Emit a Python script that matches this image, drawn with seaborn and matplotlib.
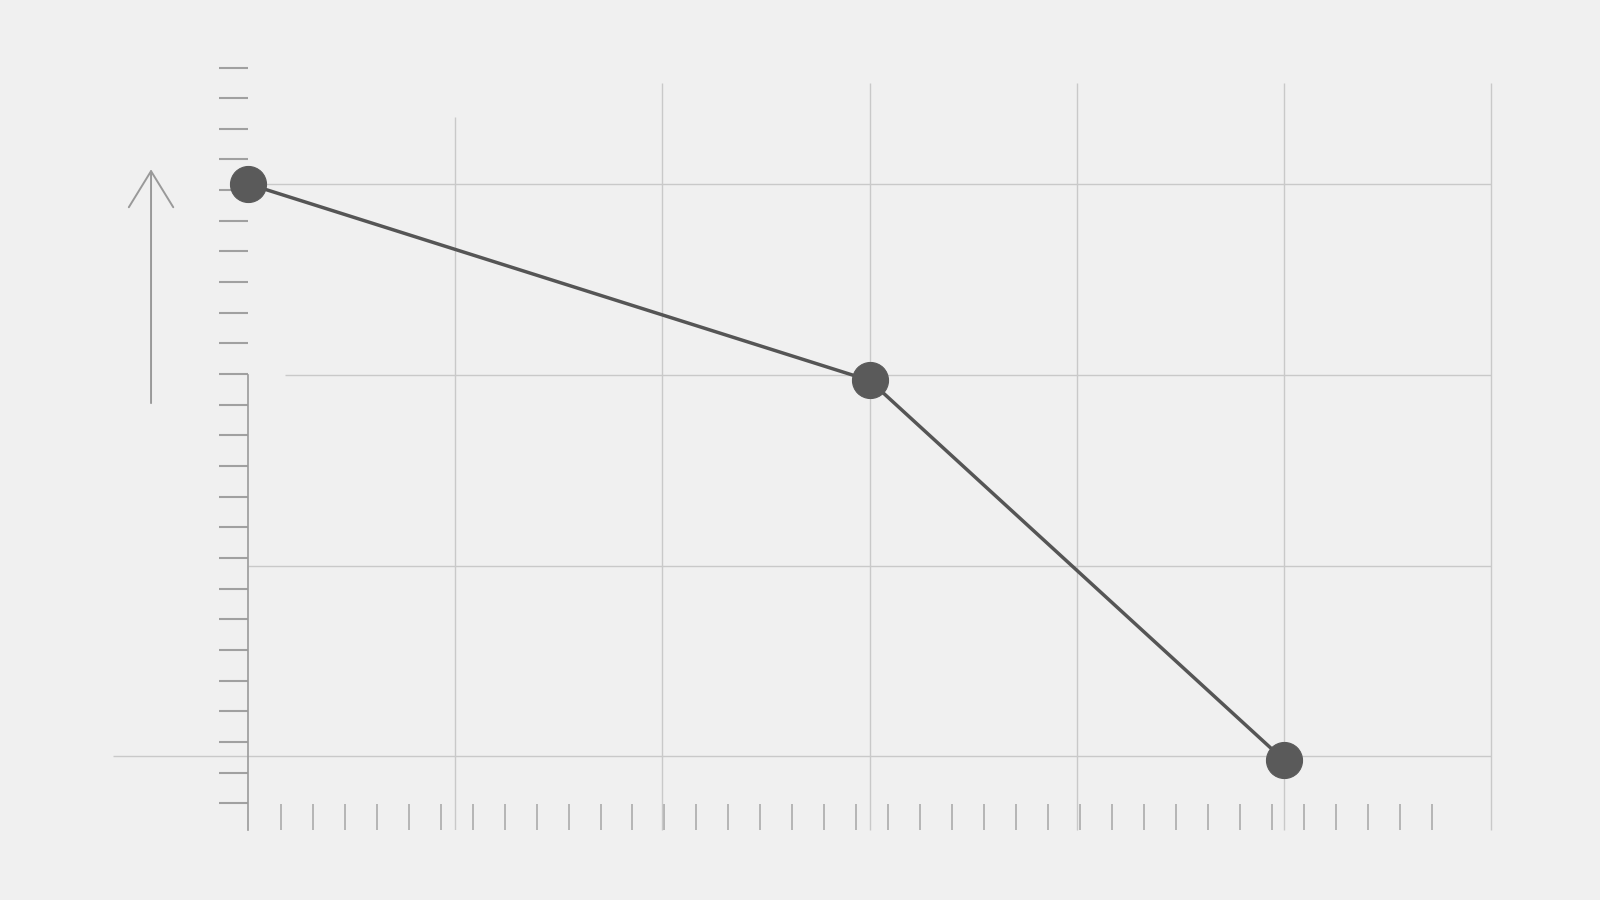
import numpy as np
import pandas as pd
import matplotlib.pyplot as plt
import seaborn as sns

# values
x_vals = [0, 3, 5]
y_vals = [3.0, 1.97, -0.02]
grid_x = [1, 2, 3, 4, 5, 6]
grid_y = [0, 1, 2, 3]

df = pd.DataFrame({"x": x_vals, "y": y_vals})

sns.set_theme(style="white", rc={"figure.facecolor": "#f0f0f0", "axes.facecolor": "#f0f0f0"})

fig = plt.figure(figsize=(16, 9), dpi=100)
ax = fig.add_axes([0.155, 0.078, 0.777, 0.847])

# grid lines drawn by hand, they do not sit on the ticks
ax.vlines(grid_x[0], -0.385, 3.35, color="#c9c9c9", lw=1, zorder=1)
ax.vlines(grid_x[1:], -0.385, 3.53, color="#c9c9c9", lw=1, zorder=1, clip_on=False)
ax.hlines([grid_y[1], grid_y[3]], 0, 6, color="#c9c9c9", lw=1, zorder=1)
ax.hlines(grid_y[2], 0.18, 6, color="#c9c9c9", lw=1, zorder=1)
ax.hlines(grid_y[0], -0.65, 6, color="#c9c9c9", lw=1, zorder=1, clip_on=False)

sns.lineplot(data=df, x="x", y="y", ax=ax, color="#555555", lw=2.5,
             marker="o", markersize=26, markerfacecolor="#5a5a5a",
             markeredgecolor="#5a5a5a", zorder=3, clip_on=False)

ax.set_xlim(0, 6)
ax.set_ylim(-0.385, 3.61)

ax.set_xticks(np.linspace(0.158, 5.714, 37))
ax.set_yticks(np.linspace(-0.246, 3.61, 25))
ax.set_xticklabels([])
ax.set_yticklabels([])
ax.set_xlabel("")
ax.set_ylabel("")
ax.tick_params(axis="y", direction="out", length=21, width=1.5, color="#a0a0a0", left=True)
ax.tick_params(axis="x", direction="in", length=19, width=1.3, color="#b0b0b0", bottom=True)

for s in ["top", "right", "bottom"]:
    ax.spines[s].set_visible(False)
ax.spines["left"].set_color("#9a9a9a")
ax.spines["left"].set_linewidth(1.2)
ax.spines["left"].set_bounds(-0.385, 2.0)

# arrow on the left
fig.patches.append(plt.matplotlib.patches.FancyArrowPatch(
    (0.0944, 0.549), (0.0944, 0.815), transform=fig.transFigure,
    arrowstyle="->,head_length=2.6,head_width=1.6", mutation_scale=10,
    color="#999999", lw=1.4))

fig.savefig("out.png", dpi=100, facecolor=fig.get_facecolor())
